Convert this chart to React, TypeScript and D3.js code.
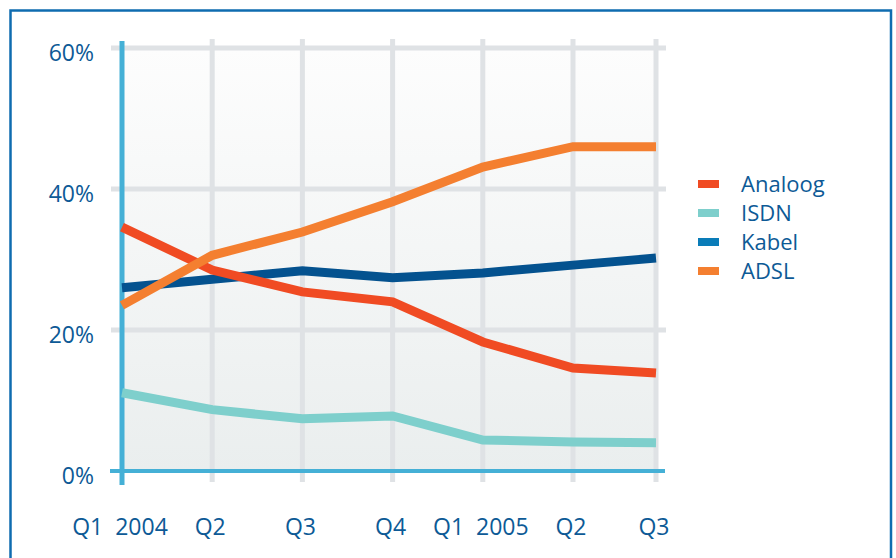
import React from 'react';
import * as d3 from 'd3';

// quarters Q1 2004 .. Q3 2005
const quarters = ['Q1  2004', 'Q2', 'Q3', 'Q4', 'Q1  2005', 'Q2', 'Q3'];
const yTicks = [0, 20, 40, 60];

const analoog = [34.6, 28.5, 25.4, 24.0, 18.3, 14.6, 13.9];
const isdn = [11.1, 8.7, 7.4, 7.8, 4.4, 4.1, 4.0];
const kabel = [26.0, 27.2, 28.4, 27.4, 28.1, 29.2, 30.2];
const adsl = [23.5, 30.6, 33.9, 38.2, 43.1, 46.0, 46.0];

const seriesNames = ['Analoog', 'ISDN', 'Kabel', 'ADSL'];
const seriesData = [analoog, isdn, kabel, adsl];
const lineColors = ['#f04b23', '#7ecfcc', '#04528f', '#f47f30'];
const legendColors = ['#f04b23', '#7ecfcc', '#0a7cb8', '#f47f30'];
const drawOrder = [1, 2, 0, 3];

const textColor = '#0d5a96';
const axisColor = '#45b0d6';
const gridColor = '#dfe2e5';
const font = '"Open Sans", "Noto Sans", sans-serif';

export default function App() {
  // last quarter sits a little closer in the original, hence the piecewise domain
  const x = d3.scaleLinear().domain([0, 5, 6]).range([122, 573, 656]);
  const y = d3.scaleLinear().domain([0, 60]).range([471, 48]);

  const line = d3.line<number>()
    .x((d, i) => x(i))
    .y((d) => y(d));

  const x0 = x(0);
  const x1 = x(quarters.length - 1);
  const [yBottom, yTop] = y.range();

  return (
    <svg width={896} height={558} style={{ position: 'absolute', left: 0, top: 0 }}>
      <defs>
        <linearGradient id="plotBg" x1="0" y1="0" x2="0" y2="1">
          <stop offset="0%" stopColor="#fdfdfd" />
          <stop offset="100%" stopColor="#eaeeee" />
        </linearGradient>
      </defs>
      <rect x={0} y={0} width={896} height={558} fill="#fff" />
      {/* outer frame */}
      <rect x={10.5} y={10.5} width={880.5} height={600} fill="none" stroke="#0f6cb0" strokeWidth={2.5} />

      {/* plot background */}
      <rect x={x0} y={yTop} width={x1 - x0} height={yBottom - yTop} fill="url(#plotBg)" />

      {/* horizontal grid */}
      {yTicks.filter((t) => t > 0).map((t) => (
        <line key={'h' + t} x1={x0 - 11} x2={x1 + 10} y1={y(t)} y2={y(t)} stroke={gridColor} strokeWidth={5} />
      ))}
      {/* vertical grid */}
      {quarters.map((q, i) => i > 0 && (
        <line key={'v' + i} x1={x(i)} x2={x(i)} y1={yTop - 9} y2={yBottom + 11} stroke={gridColor} strokeWidth={5} />
      ))}

      {/* axes */}
      <line x1={x0 - 12} x2={x1 + 9} y1={yBottom} y2={yBottom} stroke={axisColor} strokeWidth={4} />
      <line x1={x0} x2={x0} y1={yTop - 7} y2={yBottom + 14} stroke={axisColor} strokeWidth={5} />

      {/* series */}
      {drawOrder.map((k) => (
        <path key={seriesNames[k]} d={line(seriesData[k]) || ''} fill="none"
          stroke={lineColors[k]} strokeWidth={9} />
      ))}

      {/* y tick labels */}
      {yTicks.map((t) => (
        <text key={'yl' + t} x={94} y={y(t) + 13} textAnchor="end" fill={textColor}
          fontFamily={font} fontSize={23}>{t}%</text>
      ))}

      {/* x tick labels */}
      {quarters.map((q, i) => (
        <text key={'xl' + i} x={x(i) - 2} y={535} textAnchor="middle" fill={textColor}
          fontFamily={font} fontSize={23} style={{ whiteSpace: 'pre' }}>{q}</text>
      ))}

      {/* legend */}
      {seriesNames.map((name, k) => (
        <g key={'lg' + name} transform={`translate(698, ${184 + k * 29})`}>
          <rect x={0} y={-4} width={21} height={8} fill={legendColors[k]} />
          <text x={43} y={8} fill={textColor} fontFamily={font} fontSize={22}>{name}</text>
        </g>
      ))}
    </svg>
  );
}
